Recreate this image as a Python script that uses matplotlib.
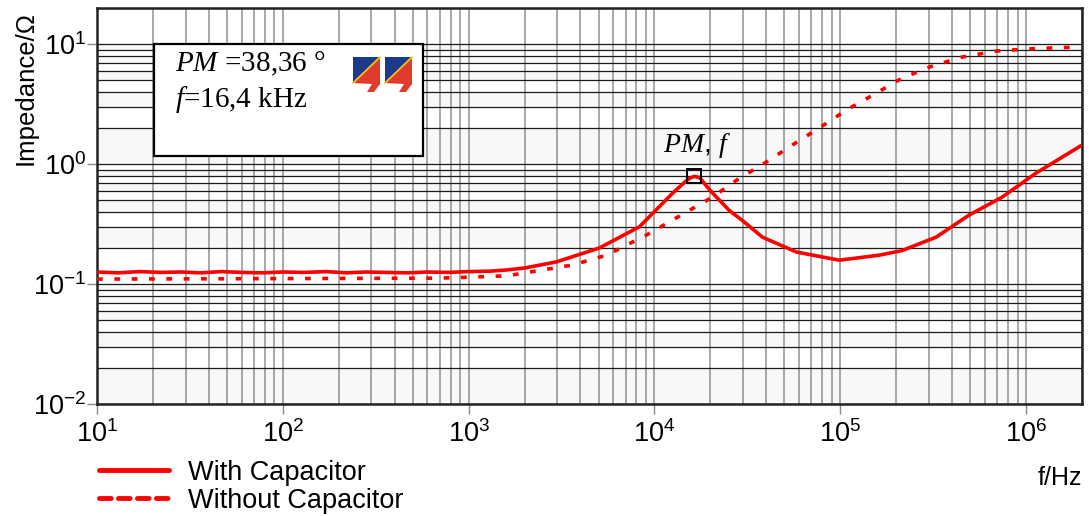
import numpy as np
import matplotlib
matplotlib.use("Agg")
import matplotlib.pyplot as plt
from matplotlib.patches import Rectangle, Polygon
from matplotlib.lines import Line2D
from matplotlib.ticker import NullFormatter

plt.rcParams['font.family'] = ['Liberation Sans', 'DejaVu Sans']
plt.rcParams['mathtext.fontset'] = 'custom'
plt.rcParams['mathtext.it'] = 'Liberation Serif:italic'
plt.rcParams['mathtext.rm'] = 'Liberation Serif'
plt.rcParams['axes.unicode_minus'] = False

freq_with = [10, 13, 17, 22, 28, 36, 47, 60, 78, 100, 130, 170, 220, 280, 360,
             470, 600, 780, 1000, 1300, 1600, 2000, 2970, 5060, 8300, 12500,
             14000, 15400, 16400, 17500, 20000, 25300, 30000, 38100, 58000, 98800,
             162000, 215000, 328000, 494000, 743000, 1.13e6, 2e6]
z_with = [0.126, 0.124, 0.127, 0.125, 0.126, 0.124, 0.127, 0.125, 0.124, 0.126,
          0.125, 0.127, 0.124, 0.126, 0.125, 0.124, 0.126, 0.125, 0.127, 0.128,
          0.131, 0.136, 0.153, 0.20, 0.30, 0.57, 0.67, 0.76, 0.79, 0.77, 0.60,
          0.41, 0.335, 0.246, 0.185, 0.158, 0.174, 0.19, 0.246, 0.376, 0.53,
          0.84, 1.44]

freq_without = [10, 100, 700, 1600, 3620, 5520, 9060, 14860, 20500, 28600, 40000,
                55200, 77100, 108000, 156000, 215000, 312000, 453000, 690000,
                1e6, 1.5e6, 2e6]
z_without = [0.110, 0.111, 0.112, 0.117, 0.144, 0.174, 0.256, 0.398, 0.53, 0.76,
             1.04, 1.44, 2.0, 2.82, 3.9, 5.2, 6.56, 7.8, 8.74, 9.09, 9.35, 9.45]

pm_freq = 16400
pm_z = 0.79
pm_text = r'$PM$ =38,36 °'
f_text = r'$f$=16,4 kHz'

W, H = 1089, 516
fig = plt.figure(figsize=(W / 100, H / 100), dpi=100)
ax = fig.add_axes([97 / W, 1 - 404 / H, 985 / W, 396 / H])
ax.set_xscale('log')
ax.set_yscale('log')
ax.set_xlim(10, 2e6)
ax.set_ylim(0.01, 20)

# alternating light stripes between horizontal grid lines
idx = 0
for d in range(-2, 2):
    for k in range(1, 10):
        if idx % 2 == 0:
            ax.axhspan(k * 10.0 ** d, (k + 1) * 10.0 ** d, color='#f8f8f8', lw=0, zorder=0)
        idx += 1

ax.grid(which='both', axis='y', color='#1a1a1a', lw=0.9, zorder=1)
ax.grid(which='both', axis='x', color='#999999', lw=1.2, zorder=1)
ax.set_axisbelow(True)

ax.plot(freq_with, z_with, color='red', lw=2.6, zorder=4)
ax.plot(freq_without, z_without, color='red', lw=2.6, ls=(0, (1.6, 3.2)), zorder=4)
ax.plot([pm_freq], [pm_z], marker='s', ms=10, mfc='none', mec='black', mew=1.4, zorder=5)
ax.annotate('$PM$, $f$', (pm_freq, pm_z), xytext=(2, 12), textcoords='offset points',
            ha='center', va='bottom', fontsize=20)

for s in ax.spines.values():
    s.set_linewidth(1.8)
    s.set_color('#222222')

ax.tick_params(which='major', length=7, width=1, color='#888888', labelsize=19.5, pad=5)
ax.tick_params(axis='y', which='major', pad=1)
ax.tick_params(which='minor', length=0)
ax.xaxis.set_minor_formatter(NullFormatter())
ax.yaxis.set_minor_formatter(NullFormatter())

fig.text(26 / W, 1 - 88 / H, 'Impedance/Ω', fontsize=18.5, rotation=90,
         ha='center', va='center')
fig.text(1082 / W, 1 - 478 / H, 'f/Hz', fontsize=18, ha='right', va='center')

# info box
ax.add_patch(Rectangle((0.0579, 0.626), 0.273, 0.283, transform=ax.transAxes,
                       facecolor='white', edgecolor='black', lw=1.6, zorder=6))
ax.text(0.079, 0.858, pm_text, transform=ax.transAxes, fontsize=21,
        family='Liberation Serif', va='center', zorder=7)
ax.text(0.079, 0.770, f_text, transform=ax.transAxes, fontsize=21,
        family='Liberation Serif', va='center', zorder=7)

# logo
def px(pts):
    return [(x / W, 1 - y / H) for x, y in pts]

for x0 in (353, 385):
    x1 = x0 + 27
    fig.patches.append(Polygon(px([(x0, 57), (x1, 57), (x0, 83)]), closed=True,
                               facecolor='#1b3a8c', edgecolor='none', transform=fig.transFigure, zorder=8))
    fig.patches.append(Polygon(px([(x0, 83), (x1, 57), (x1, 84), (x1 - 6, 92), (x1 - 13, 92),
                                   (x1 - 8, 84)]), closed=True,
                               facecolor='#e23b2e', edgecolor='none', transform=fig.transFigure, zorder=8))
    fig.lines.append(Line2D([x0 / W, x1 / W], [1 - 83 / H, 1 - 57 / H], color='#f5d000',
                            lw=1.2, transform=fig.transFigure, zorder=9))

handles = [Line2D([], [], color='red', lw=3.5, solid_capstyle='round'),
           Line2D([], [], color='red', lw=3.5, ls=(0, (2.4, 1.5)), dash_capstyle='round')]
fig.legend(handles, ['With Capacitor', 'Without Capacitor'], loc='upper left',
           bbox_to_anchor=(85 / W, 1 - 446 / H), frameon=False, fontsize=19.5,
           handlelength=2.6, handletextpad=0.7, labelspacing=0.08, borderpad=0)

fig.savefig('out.png', dpi=100)
